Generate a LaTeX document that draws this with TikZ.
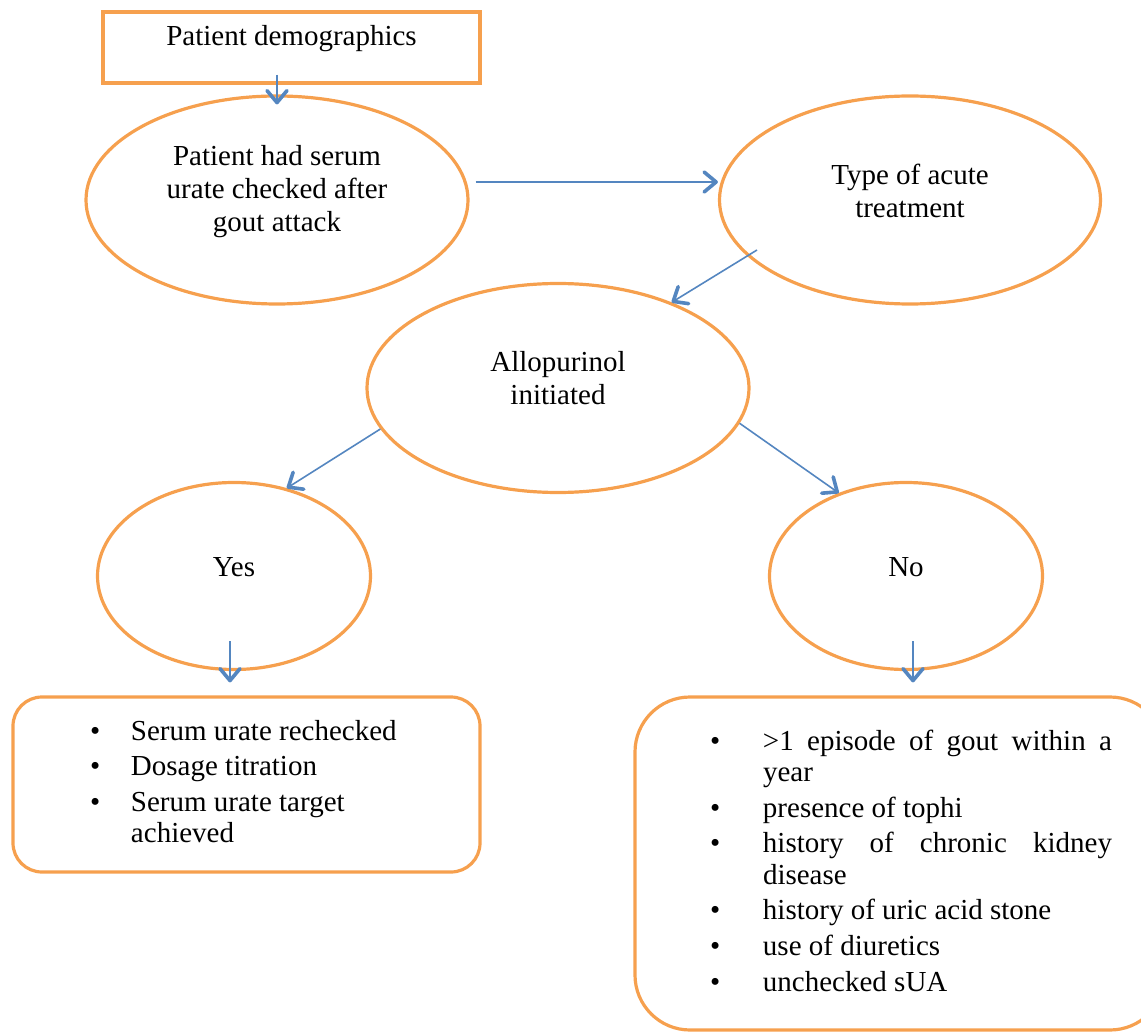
\documentclass[tikz,border=0pt]{standalone}
\usepackage{fontspec}
\setmainfont{Liberation Serif}
\usepackage{array}
\usetikzlibrary{arrows.meta,shapes.geometric,calc}
\definecolor{boxorange}{RGB}{246,160,78}
\definecolor{flowblue}{RGB}{84,134,192}
\renewcommand{\arraystretch}{1.13}
\newcommand{\sink}[1]{\rule[-#1]{0pt}{#1}}

\begin{document}
\begin{tikzpicture}[x=0.5pt,y=-0.5pt,
  >={Straight Barb[length=6pt,width=10pt,line width=1.8pt,round]},
  txt/.style={font=\fontsize{14.5}{16.5}\selectfont, align=center},
  oval/.style={txt, ellipse, draw=boxorange, line width=1.6pt, inner sep=0pt},
  flow/.style={->, draw=flowblue, line width=0.8pt},
  listbox/.style={draw=boxorange, line width=1.6pt, font=\fontsize{14.5}{15.75}\selectfont}]
\useasboundingbox (0,0) rectangle (1141,1032);
% first steps
\node[txt, draw=boxorange, line width=1.6pt, minimum width=188.5pt, minimum height=35.5pt] (demo) at (291.5,47.5) {Patient demographics\sink{12.5pt}};
\node[oval, minimum width=191pt, minimum height=104pt] (serum) at (277,200) {Patient had serum\\urate checked after\\gout attack\sink{12pt}};
\node[oval, minimum width=190.5pt, minimum height=104pt] (acute) at (910,200) {Type of acute\\treatment\sink{9pt}};
\node[oval, minimum width=191pt, minimum height=104.5pt] (allo) at (558,388) {Allopurinol\\initiated\sink{10pt}};
% the two branches
\node[oval, minimum width=136.5pt, minimum height=93.5pt] (yes) at (234,576) {Yes\sink{9pt}};
\node[oval, minimum width=136.5pt, minimum height=93.5pt] (no) at (906,576) {No\sink{9pt}};
\node[listbox, rounded corners=14.5pt, minimum width=233.5pt, minimum height=87.5pt] (yesbox) at (246.5,784.5)
  {\hspace{4pt}\begin{tabular}{@{}p{20.5pt}@{}>{\raggedright\arraybackslash}p{140pt}@{}}
   \textbullet & Serum urate rechecked\\
   \textbullet & Dosage titration\\
   \textbullet & Serum urate target achieved
   \end{tabular}};
\node[listbox, rounded corners=27.5pt, minimum width=265pt, minimum height=166.5pt] (nobox) at (900,863.5)
  {\hspace{11pt}\begin{tabular}{@{}p{26.5pt}@{}p{174.5pt}@{}}
   \textbullet & >1 episode of gout within a\linebreak year\\
   \textbullet & presence of tophi\\
   \textbullet & history of chronic kidney\linebreak disease\\
   \textbullet & history of uric acid stone\\
   \textbullet & use of diuretics\\
   \textbullet & unchecked sUA
   \end{tabular}};
% arrows
\draw[flow] ($(demo.south -| serum.north)+(0,5pt)$) -- ($(serum.north)+(0,-5pt)$);
\draw[flow] ($(serum.east)+(3pt,9pt)$) -- ($(acute.west)+(0,9pt)$);
\draw[flow] ($(acute.center)+(-76.5pt,-25pt)$) -- (allo.37);
\draw[flow] (allo.193) -- (yes.59);
\draw[flow] (allo.349) -- (no.129);
\draw[flow] ($(yes.south)+(-2pt,15pt)$) -- ($(yesbox.north -| yes.south)+(-2pt,6.5pt)$);
\draw[flow] ($(no.south)+(3.5pt,15pt)$) -- ($(nobox.north -| no.south)+(3.5pt,6.5pt)$);
\end{tikzpicture}
\end{document}
